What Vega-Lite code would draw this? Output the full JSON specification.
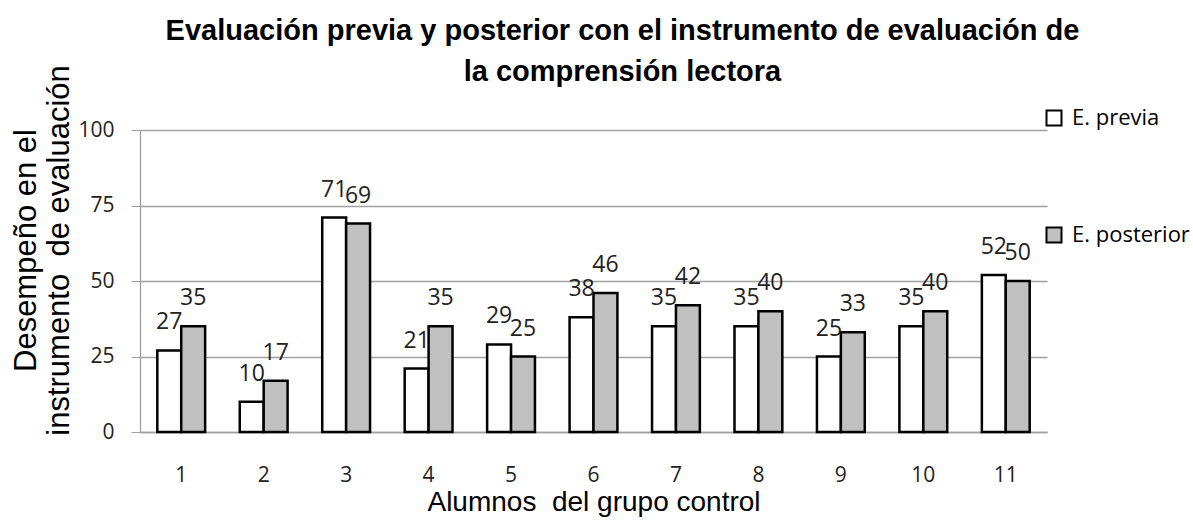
{
  "$schema": "https://vega.github.io/schema/vega-lite/v6.json",
  "width": 907,
  "height": 302,
  "autosize": {"type": "none"},
  "padding": {"left": 140, "top": 130, "right": 146, "bottom": 91},
  "background": "white",
  "title": {
    "text": ["Evaluación previa y posterior con el instrumento de evaluación de", "la comprensión lectora"],
    "font": "Liberation Sans",
    "fontSize": 29,
    "fontWeight": "bold",
    "color": "black",
    "anchor": "middle",
    "frame": "group",
    "dx": 29,
    "lineHeight": 41,
    "offset": -22
  },
  "data": {
    "values": [
      {"alumno": 1, "serie": "E. previa", "valor": 27},
      {"alumno": 1, "serie": "E. posterior", "valor": 35},
      {"alumno": 2, "serie": "E. previa", "valor": 10},
      {"alumno": 2, "serie": "E. posterior", "valor": 17},
      {"alumno": 3, "serie": "E. previa", "valor": 71},
      {"alumno": 3, "serie": "E. posterior", "valor": 69},
      {"alumno": 4, "serie": "E. previa", "valor": 21},
      {"alumno": 4, "serie": "E. posterior", "valor": 35},
      {"alumno": 5, "serie": "E. previa", "valor": 29},
      {"alumno": 5, "serie": "E. posterior", "valor": 25},
      {"alumno": 6, "serie": "E. previa", "valor": 38},
      {"alumno": 6, "serie": "E. posterior", "valor": 46},
      {"alumno": 7, "serie": "E. previa", "valor": 35},
      {"alumno": 7, "serie": "E. posterior", "valor": 42},
      {"alumno": 8, "serie": "E. previa", "valor": 35},
      {"alumno": 8, "serie": "E. posterior", "valor": 40},
      {"alumno": 9, "serie": "E. previa", "valor": 25},
      {"alumno": 9, "serie": "E. posterior", "valor": 33},
      {"alumno": 10, "serie": "E. previa", "valor": 35},
      {"alumno": 10, "serie": "E. posterior", "valor": 40},
      {"alumno": 11, "serie": "E. previa", "valor": 52},
      {"alumno": 11, "serie": "E. posterior", "valor": 50}
    ]
  },
  "encoding": {
    "x": {
      "field": "alumno",
      "type": "ordinal",
      "scale": {"paddingInner": 0.42, "paddingOuter": 0.21},
      "axis": {
        "title": "Alumnos\u00a0 del grupo control",
        "titleFont": "Liberation Sans",
        "titleFontSize": 28,
        "titleFontWeight": "normal",
        "titleColor": "black",
        "titleBaseline": "alphabetic",
        "titleY": 78,
        "labelAngle": 0,
        "ticks": false,
        "labelPadding": 32,
        "labelFont": "Open Sans",
        "labelFontSize": 21,
        "labelColor": "#222222",
        "domainColor": "#a0a0a0",
        "domainWidth": 1.3,
        "grid": false
      }
    },
    "xOffset": {"field": "serie", "type": "nominal", "sort": ["E. previa", "E. posterior"]},
    "y": {
      "field": "valor",
      "type": "quantitative",
      "scale": {"domain": [0, 100]},
      "axis": {
        "title": ["Desempeño en el", "instrumento\u00a0 de evaluación"],
        "titleFont": "Liberation Sans",
        "titleFontSize": 31,
        "titleFontWeight": "normal",
        "titleColor": "black",
        "titleAngle": -90,
        "titleAlign": "center",
        "titleBaseline": "alphabetic",
        "titleX": -105,
        "titleY": 120,
        "titleLineHeight": 33,
        "values": [0, 25, 50, 75, 100],
        "grid": true,
        "gridColor": "#a0a0a0",
        "gridWidth": 1.3,
        "domainColor": "#a0a0a0",
        "domainWidth": 1.3,
        "tickColor": "#a0a0a0",
        "tickSize": 9,
        "labelPadding": 17,
        "labelFont": "Open Sans",
        "labelFontSize": 21,
        "labelColor": "#222222"
      }
    }
  },
  "layer": [
    {
      "mark": {"type": "bar", "stroke": "black", "strokeWidth": 2.5},
      "encoding": {
        "fill": {
          "field": "serie",
          "type": "nominal",
          "scale": {"domain": ["E. previa", "E. posterior"], "range": ["#ffffff", "#c0c0c0"]},
          "legend": {
            "title": null,
            "orient": "none",
            "legendX": 903,
            "legendY": -23,
            "symbolType": "square",
            "symbolSize": 225,
            "symbolStrokeColor": "black",
            "symbolStrokeWidth": 2,
            "labelFont": "Open Sans",
            "labelFontSize": 22,
            "labelColor": "black",
            "rowPadding": 93,
            "labelOffset": 7,
            "padding": 0
          }
        }
      }
    },
    {
      "mark": {"type": "text", "baseline": "alphabetic", "dy": -21, "font": "Open Sans", "fontSize": 23, "color": "#222222"},
      "encoding": {"text": {"field": "valor", "type": "quantitative"}}
    }
  ],
  "config": {"view": {"stroke": null}}
}
